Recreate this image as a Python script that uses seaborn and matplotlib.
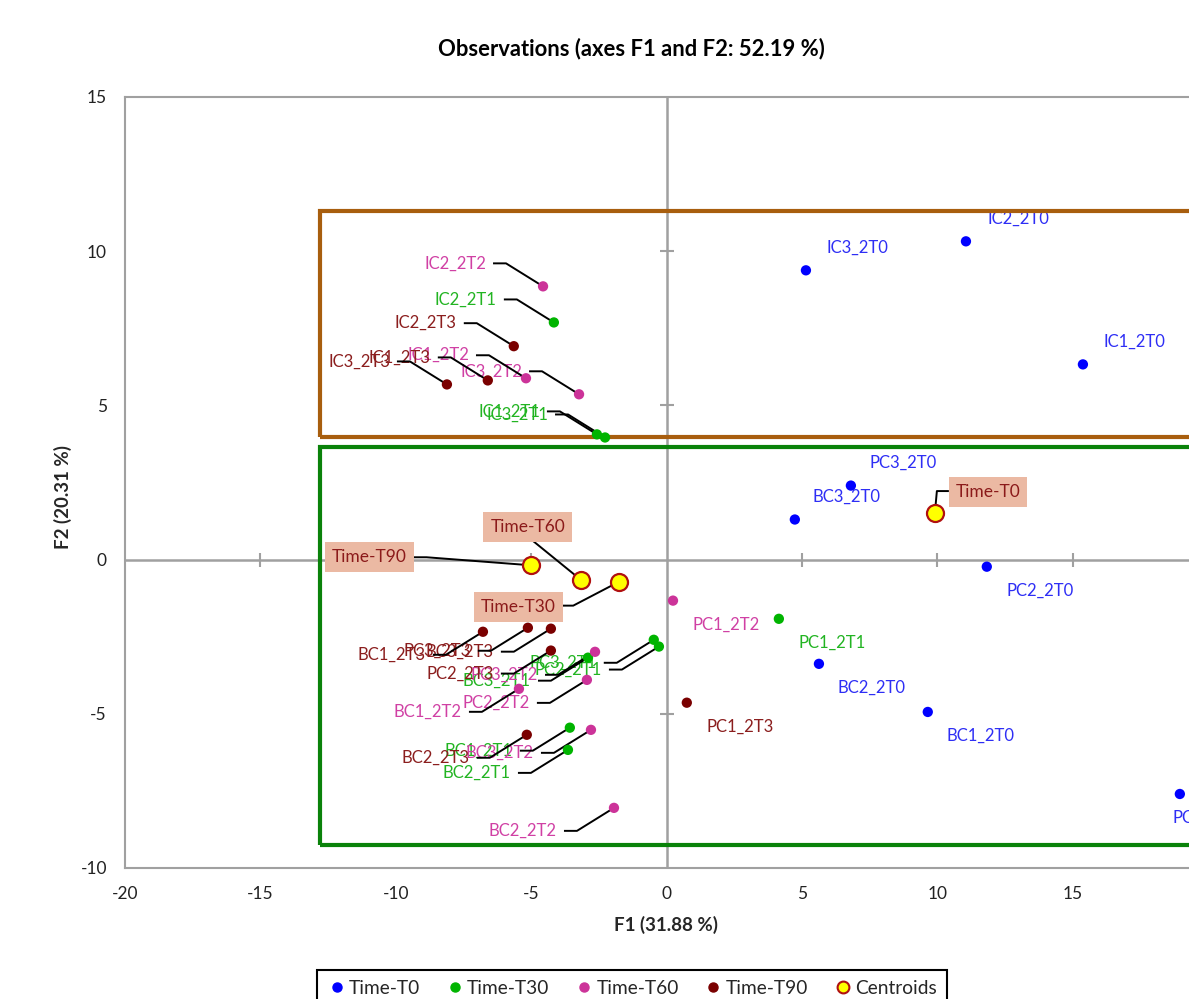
import matplotlib
matplotlib.use('Agg')
import matplotlib.pyplot as plt
import matplotlib.patches as mpatches
from matplotlib.lines import Line2D
import pandas as pd
import seaborn as sns

t0_names = ['IC1_2T0', 'IC2_2T0', 'IC3_2T0', 'PC1_2T0', 'PC2_2T0', 'PC3_2T0', 'BC1_2T0', 'BC2_2T0', 'BC3_2T0']
t0_f1 = [15.38, 11.06, 5.15, 18.96, 11.83, 6.81, 9.65, 5.63, 4.74]
t0_f2 = [6.33, 10.32, 9.38, -7.60, -0.23, 2.40, -4.94, -3.38, 1.30]

t30_names = ['IC1_2T1', 'IC2_2T1', 'IC3_2T1', 'PC1_2T1', 'PC2_2T1', 'PC3_2T1', 'BC1_2T1', 'BC2_2T1', 'BC3_2T1']
t30_f1 = [-2.57, -4.16, -2.27, 4.15, -0.28, -0.47, -3.57, -3.64, -2.90]
t30_f2 = [4.06, 7.69, 3.96, -1.92, -2.82, -2.60, -5.45, -6.17, -3.18]

t60_names = ['IC1_2T2', 'IC2_2T2', 'IC3_2T2', 'PC1_2T2', 'PC2_2T2', 'PC3_2T2', 'BC1_2T2', 'BC2_2T2', 'BC3_2T2']
t60_f1 = [-5.19, -4.56, -3.23, 0.24, -2.94, -2.64, -5.45, -1.94, -2.79]
t60_f2 = [5.88, 8.86, 5.36, -1.33, -3.90, -2.99, -4.19, -8.05, -5.52]

t90_names = ['IC1_2T3', 'IC2_2T3', 'IC3_2T3', 'PC1_2T3', 'PC2_2T3', 'PC3_2T3', 'BC1_2T3', 'BC2_2T3', 'BC3_2T3']
t90_f1 = [-6.60, -5.64, -8.11, 0.75, -4.27, -5.12, -6.78, -5.16, -4.27]
t90_f2 = [5.81, 6.92, 5.68, -4.64, -2.95, -2.21, -2.34, -5.68, -2.24]

groups = ['Time-T0', 'Time-T30', 'Time-T60', 'Time-T90']
x_ticks = [-20, -15, -10, -5, 0, 5, 10, 15, 20]
y_ticks = [-10, -5, 0, 5, 10, 15]

# where each data label sits: ur/dr = plain label up/down right, ul/dl = label left with leader line
label_side = {
    'IC1_2T0': 'ur', 'IC2_2T0': 'ur', 'IC3_2T0': 'ur', 'PC1_2T0': 'edge', 'PC2_2T0': 'dr',
    'PC3_2T0': 'ur', 'BC1_2T0': 'dr', 'BC2_2T0': 'dr', 'BC3_2T0': 'ur',
    'PC1_2T1': 'dr', 'PC1_2T2': 'dr', 'PC1_2T3': 'dr',
}

marker_colors = {'Time-T0': '#0000FF', 'Time-T30': '#00B400', 'Time-T60': '#CC3399', 'Time-T90': '#7A0000'}
text_colors = {'Time-T0': '#2E2EF5', 'Time-T30': '#22B422', 'Time-T60': '#D040A4', 'Time-T90': '#8B1E1E'}

# centroid label boxes: box centre offset and leader line (pixels, +y down)
centroid_boxes = {
    'Time-T0': ((53, -21), [(0, 0), (2, -22), (14, -22)]),
    'Time-T30': ((-101, 25), [(0, 0), (-46, 24), (-57, 24)]),
    'Time-T60': ((-53, -53), [(0, 0), (-48, -39)]),
    'Time-T90': ((-161, -8), [(0, 0), (-104, -8), (-118, -8)]),
}

frames = []
for g, names, f1, f2 in zip(groups, [t0_names, t30_names, t60_names, t90_names],
                            [t0_f1, t30_f1, t60_f1, t90_f1], [t0_f2, t30_f2, t60_f2, t90_f2]):
    frames.append(pd.DataFrame({'name': names, 'F1': f1, 'F2': f2, 'group': g}))
df = pd.concat(frames, ignore_index=True)
centroids = df.groupby('group', sort=False)[['F1', 'F2']].mean().reset_index()

sns.set_style('white')
plt.rcParams['font.family'] = ['Lato', 'DejaVu Sans']
plt.rcParams['axes.unicode_minus'] = False

fig = plt.figure(figsize=(11.89, 9.99), dpi=100)
ax = fig.add_axes([125 / 1189, 1 - 868 / 999, 1083 / 1189, 771 / 999])
ax.set_xlim(-20, 20)
ax.set_ylim(-10, 15)

for s in ax.spines.values():
    s.set_color('#A0A0A0')
    s.set_linewidth(1.5)
ax.set_xticks(x_ticks)
ax.set_yticks(y_ticks)
ax.tick_params(length=0, labelsize=12.5, colors='#222222', pad=13)
ax.axhline(0, color='#A0A0A0', lw=1.8, zorder=1)
ax.axvline(0, color='#A0A0A0', lw=1.8, zorder=1)
# cross tick marks on the zero lines
ax.scatter([t for t in x_ticks if t not in (-20, 0, 20)], [0] * 6, marker='|', s=110, color='#A0A0A0', lw=1.5, zorder=1)
ax.scatter([0] * 3, [t for t in y_ticks if t not in (-10, 0, 15)], marker='_', s=110, color='#A0A0A0', lw=1.5, zorder=1)


def leader(x, y, pts, **kw):
    px, py = ax.transData.transform((x, y))
    disp = [(px + dx, py - dy) for dx, dy in pts]
    d = ax.transData.inverted().transform(disp)
    ax.plot(d[:, 0], d[:, 1], color='black', lw=1.4, solid_capstyle='butt', **kw)


for _, r in df.iterrows():
    side = label_side.get(r['name'], 'ul' if r['name'].startswith('IC') else 'dl')
    col = text_colors[r['group']]
    if side in ('ur', 'dr', 'edge'):
        off = {'ur': (52, -23), 'dr': (53, 24), 'edge': (26, 24)}[side]
        ax.annotate(r['name'], (r['F1'], r['F2']), xytext=(off[0], -off[1]), textcoords='offset pixels',
                    ha='center', va='center', fontsize=12, color=col, zorder=2)
    else:
        dy = -23 if side == 'ul' else 23
        ax.annotate(r['name'], (r['F1'], r['F2']), xytext=(-57, -dy), textcoords='offset pixels',
                    ha='right', va='center', fontsize=12, color=col, zorder=2)
        leader(r['F1'], r['F2'], [(0, 0), (-37, dy), (-50, dy)], zorder=2.5)

# highlight boxes around the two clusters
ax.add_patch(mpatches.Rectangle((-12.8, 3.99), 34, 11.30 - 3.99, fill=False, edgecolor='#A85E0E', lw=3, zorder=3))
ax.add_patch(mpatches.Rectangle((-12.8, -9.25), 34, 3.64 + 9.25, fill=False, edgecolor='#0A820A', lw=3, zorder=3))

sns.scatterplot(data=df, x='F1', y='F2', hue='group', palette=marker_colors, s=55, edgecolor='none',
                legend=False, ax=ax, zorder=4)
sns.scatterplot(data=centroids, x='F1', y='F2', color='#FFFF00', edgecolor='#B01010', linewidth=1.6,
                s=150, legend=False, ax=ax, zorder=5)

for _, r in centroids.iterrows():
    (bx, by), pts = centroid_boxes[r['group']]
    leader(r['F1'], r['F2'], pts, zorder=4.5)
    ax.annotate(r['group'], (r['F1'], r['F2']), xytext=(bx, -by), textcoords='offset pixels',
                ha='center', va='center', fontsize=12.5, color='#8B1A1A', zorder=6,
                bbox=dict(boxstyle='square,pad=0.4', facecolor='#EBB9A3', edgecolor='none'))

ax.set_xlabel('')
ax.set_ylabel('')
fig.text(631 / 1189, 1 - 49 / 999, 'Observations (axes F1 and F2: 52.19 %)', ha='center', va='center',
         fontsize=15.8, fontweight='bold', color='black')
fig.text(666 / 1189, 1 - 925 / 999, 'F1 (31.88 %)', ha='center', va='center', fontsize=13.5, fontweight='bold')
fig.text(63 / 1189, 1 - 497 / 999, 'F2 (20.31 %)', ha='center', va='center', fontsize=13.5, fontweight='bold',
         rotation=90)

handles = [Line2D([], [], marker='o', ls='', color=marker_colors[g], markersize=6.5) for g in groups]
handles.append(Line2D([], [], marker='o', ls='', markerfacecolor='#FFFF00', markeredgecolor='#B01010',
                      markeredgewidth=1.5, markersize=8.5))
leg = fig.legend(handles, groups + ['Centroids'], loc='upper center', bbox_to_anchor=(632 / 1189, 1 - 970 / 999),
                 ncol=5, fontsize=13.8, frameon=True, fancybox=False, edgecolor='black', framealpha=1,
                 handletextpad=0.15, columnspacing=1.3, handlelength=1.0, borderpad=0.5, borderaxespad=0)
leg.get_frame().set_linewidth(1.5)

fig.savefig('out.png', dpi=100)
